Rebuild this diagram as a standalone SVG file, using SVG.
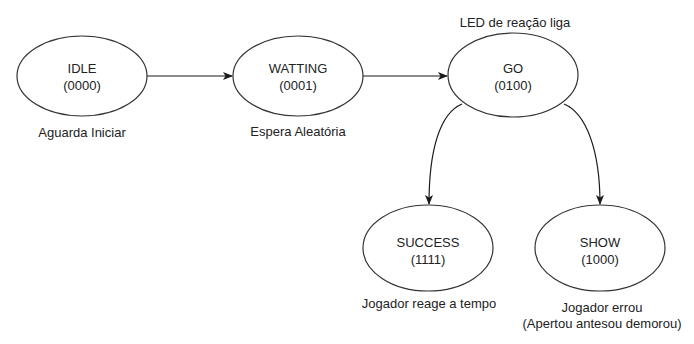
<svg xmlns="http://www.w3.org/2000/svg" width="694" height="344" viewBox="0 0 694 344">
  <style>
    .state { fill: #ffffff; stroke: #333333; stroke-width: 1.2; }
    .edge { fill: none; stroke: #1a1a1a; stroke-width: 1.2; }
    text { font-family: "Liberation Sans", Arial, Helvetica, sans-serif; font-size: 13px; fill: #222222; text-anchor: middle; }
  </style>
  <defs>
    <marker id="arrow" viewBox="0 0 10 8" refX="9" refY="4" markerWidth="10" markerHeight="8" markerUnits="userSpaceOnUse" orient="auto">
      <path d="M0,0 L10,4 L0,8 L2.5,4 z" fill="#1a1a1a"/>
    </marker>
  </defs>

  <rect width="694" height="344" fill="#ffffff"/>

  <!-- transitions -->
  <g id="connectors">
    <path class="edge" d="M147,76 L232,76" marker-end="url(#arrow)"/>
    <path class="edge" d="M363,76 L447,76" marker-end="url(#arrow)"/>
    <path class="edge" d="M462,104 C440,113 429,150 429,204" marker-end="url(#arrow)"/>
    <path class="edge" d="M564,104 C586,113 600,150 600,204" marker-end="url(#arrow)"/>
  </g>

  <g id="idle">
    <ellipse class="state" cx="82" cy="76" rx="65" ry="40"/>
    <text x="82" y="73">IDLE</text>
    <text x="82" y="90">(0000)</text>
    <text x="82" y="137">Aguarda Iniciar</text>
  </g>

  <g id="watting">
    <ellipse class="state" cx="298" cy="76" rx="65" ry="40"/>
    <text x="298" y="73">WATTING</text>
    <text x="298" y="90">(0001)</text>
    <text x="298" y="136">Espera Aleatória</text>
  </g>

  <g id="go">
    <ellipse class="state" cx="513" cy="75" rx="65" ry="42"/>
    <text x="515" y="27">LED de reação liga</text>
    <text x="513" y="73">GO</text>
    <text x="513" y="90">(0100)</text>
  </g>

  <g id="success">
    <ellipse class="state" cx="428" cy="248" rx="65" ry="43"/>
    <text x="428" y="247">SUCCESS</text>
    <text x="428" y="264">(1111)</text>
    <text x="429" y="308">Jogador reage a tempo</text>
  </g>

  <g id="show">
    <ellipse class="state" cx="600" cy="248" rx="65" ry="43"/>
    <text x="600" y="247">SHOW</text>
    <text x="600" y="264">(1000)</text>
    <text x="602" y="312">Jogador errou</text>
    <text x="602" y="328">(Apertou antesou demorou)</text>
  </g>
</svg>
